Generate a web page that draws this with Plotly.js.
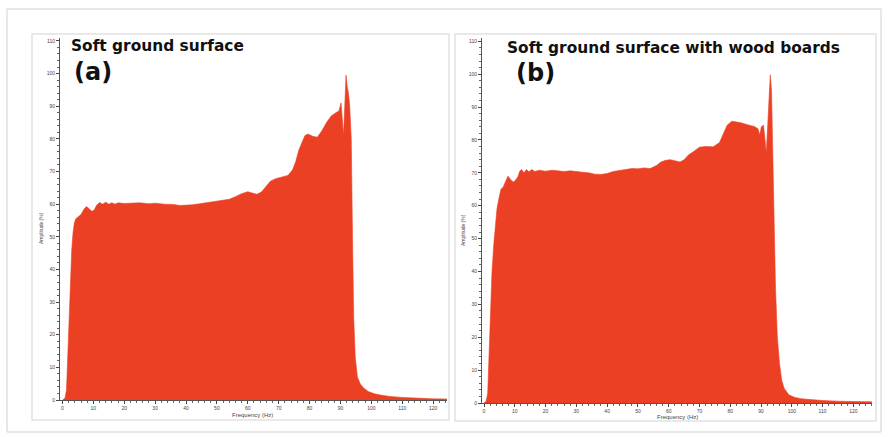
<!DOCTYPE html>
<html>
<head>
<meta charset="utf-8">
<script src="https://cdn.plot.ly/plotly-3.0.1.min.js"></script>
<style>html,body{margin:0;padding:0;background:#fff;}#chart{width:888px;height:437px;}</style>
</head>
<body>
<div id="chart"></div>
<script>
// Panel (a): Soft ground surface
const freqA = [0,0.8,1.3,1.8,2.2,2.6,3.0,3.4,3.8,4.3,5,6,7,7.8,8.6,9.5,10.3,11,12,13,14,15,16,17,18,20,22,25,28,30,33,36,38,40,42,45,48,50,52,54,56,58,60,61.5,63,64.5,66,67.3,69,71,73,74.5,75.5,76.5,77.5,78.5,79.5,81,82.5,84,85.5,87,88.5,89.5,90.2,90.6,91,91.4,91.8,92.2,92.6,93,93.5,93.9,94.3,94.8,95.5,96.5,97.5,99,101,103,106,110,115,120,124.5];
const ampA  = [0,0.5,3,15,28,38,46,51,54,55.5,56,56.8,58.5,59.3,58.6,57.8,58.2,59.6,60.5,60,60.6,60,60.4,60,60.4,60.2,60.3,60.4,60.1,60.3,60,59.9,59.6,59.7,59.8,60.2,60.7,61,61.3,61.5,62.3,63.2,63.8,63.5,63,63.8,65.5,67,67.8,68.2,68.8,70.5,73,76.5,79,81,81.5,80.8,80.5,82.5,85,87,88,88.5,91,85,81,90,99.5,96,94,90,80,50,25,13,7,4.8,3.7,2.6,1.9,1.5,1.1,0.8,0.5,0.35,0.3];

// Panel (b): Soft ground surface with wood boards
const freqB = [0,0.7,1.2,1.7,2.1,2.6,3.2,3.7,4.2,4.8,5.5,6.2,7,7.8,8.6,9.5,10.3,11,11.6,12.2,13,13.8,14.6,15.5,16.5,18,20,22,24,26,28,30,32,34,36,38,40,42,44,46,48,50,52,54,56,57.5,59,60.5,62,63.7,65,66.5,68,70,72,74.5,76.5,78,79,80.5,82,83.5,85,86.5,88,89,89.6,90.1,90.8,91.3,91.7,92.2,92.7,93,93.4,93.8,94.2,94.7,95.3,96,96.7,97.5,99,101,103,106,110,115,120,126];
const ampB  = [0,0.5,3,15,28,40,48.5,55,59,62,65,65.6,67.5,69,68,67.2,67.8,68.8,70.5,71,70,71,70.3,71,70.4,70.8,70.5,70.8,70.6,70.4,70.6,70.3,70.2,70,69.6,69.5,69.8,70.4,70.7,71,71.3,71.2,71.5,71.3,72.2,73.3,73.8,74,73.6,73.3,74,75.5,76.4,77.8,78,77.9,79.2,82.5,84.5,85.7,85.5,85.2,84.8,84.5,84,83.4,81.5,84,84.5,80,76,85,97,99.8,95,75,55,35,20,12,7,4.5,2.5,1.7,1.3,1,0.75,0.55,0.45,0.35];

const xTicks = [0,10,20,30,40,50,60,70,80,90,100,110,120];
const yTicks = [0,10,20,30,40,50,60,70,80,90,100,110];
const titleA = "Soft ground surface";
const titleB = "Soft ground surface with wood boards";
const labelA = "(a)";
const labelB = "(b)";
const xTitle = "Frequency (Hz)";
const yTitle = "Amplitude (%)";

const W = 888, H = 437;
const px = v => v / W;
const py = v => 1 - v / H;
const RED = '#EC4024';

const traces = [
  {x: freqA, y: ampA, type: 'scatter', mode: 'lines', fill: 'tozeroy',
   line: {color: RED, width: 0.6}, fillcolor: RED, xaxis: 'x', yaxis: 'y', hoverinfo: 'x+y'},
  {x: freqB, y: ampB, type: 'scatter', mode: 'lines', fill: 'tozeroy',
   line: {color: RED, width: 0.6}, fillcolor: RED, xaxis: 'x2', yaxis: 'y2', hoverinfo: 'x+y'}
];

function xax(domain, range, anchor) {
  return {domain: domain, range: range, anchor: anchor, tickvals: xTicks, ticktext: xTicks.map(String),
    showgrid: false, zeroline: false, showline: true, linecolor: '#555', linewidth: 1,
    ticks: 'outside', ticklen: 3, tickcolor: '#444', tickfont: {family: 'Liberation Sans', size: 5, color: '#444'},
    minor: {ticks: 'outside', dtick: 2, ticklen: 2, tickcolor: '#666'}, fixedrange: true};
}
function yax(domain, range, anchor) {
  return {domain: domain, range: range, anchor: anchor, tickvals: yTicks, ticktext: yTicks.map(String),
    showgrid: false, zeroline: false, showline: true, linecolor: '#555', linewidth: 1,
    ticks: 'outside', ticklen: 3, tickcolor: '#444', tickfont: {family: 'Liberation Sans', size: 5, color: '#444'},
    minor: {ticks: 'outside', dtick: 2, ticklen: 2, tickcolor: '#666'}, fixedrange: true};
}

const layout = {
  width: W, height: H,
  margin: {l: 0, r: 0, t: 0, b: 0},
  paper_bgcolor: '#fff', plot_bgcolor: 'rgba(0,0,0,0)',
  showlegend: false,
  xaxis: xax([px(60), px(447)], [-0.8, 124.5], 'y'),
  yaxis: yax([py(400), py(38)], [0, 110.9], 'x'),
  xaxis2: xax([px(482), px(872)], [-0.65, 126.05], 'y2'),
  yaxis2: yax([py(403), py(38)], [0, 111], 'x2'),
  shapes: [
    {type: 'rect', xref: 'paper', yref: 'paper', x0: px(7), x1: px(881), y0: py(432), y1: py(9),
     line: {color: '#d0d0d0', width: 1}, layer: 'below'},
    {type: 'rect', xref: 'paper', yref: 'paper', x0: px(32), x1: px(449), y0: py(420), y1: py(34),
     line: {color: '#e2e2e2', width: 1.5}, layer: 'below'},
    {type: 'rect', xref: 'paper', yref: 'paper', x0: px(455), x1: px(876), y0: py(421), y1: py(34),
     line: {color: '#e2e2e2', width: 1.5}, layer: 'below'}
  ],
  annotations: [
    {text: '<b>' + titleA + '</b>', xref: 'paper', yref: 'paper', x: px(69), y: py(46), xanchor: 'left', yanchor: 'middle',
     showarrow: false, font: {family: 'DejaVu Sans', size: 15.4, color: '#111'}},
    {text: '<b>' + labelA + '</b>', xref: 'paper', yref: 'paper', x: px(72), y: py(72), xanchor: 'left', yanchor: 'middle',
     showarrow: false, font: {family: 'DejaVu Sans', size: 24, color: '#111'}},
    {text: '<b>' + titleB + '</b>', xref: 'paper', yref: 'paper', x: px(505), y: py(48), xanchor: 'left', yanchor: 'middle',
     showarrow: false, font: {family: 'DejaVu Sans', size: 15.4, color: '#111'}},
    {text: '<b>' + labelB + '</b>', xref: 'paper', yref: 'paper', x: px(514), y: py(73), xanchor: 'left', yanchor: 'middle',
     showarrow: false, font: {family: 'DejaVu Sans', size: 24, color: '#111'}},
    {text: xTitle, xref: 'paper', yref: 'paper', x: px(253), y: py(415), xanchor: 'center', yanchor: 'middle',
     showarrow: false, font: {family: 'Liberation Sans', size: 6, color: '#444'}},
    {text: xTitle, xref: 'paper', yref: 'paper', x: px(677), y: py(417), xanchor: 'center', yanchor: 'middle',
     showarrow: false, font: {family: 'Liberation Sans', size: 6, color: '#444'}},
    {text: yTitle, xref: 'paper', yref: 'paper', x: px(41), y: py(228), xanchor: 'center', yanchor: 'middle', textangle: -90,
     showarrow: false, font: {family: 'Liberation Sans', size: 5, color: '#444'}},
    {text: yTitle, xref: 'paper', yref: 'paper', x: px(463), y: py(230), xanchor: 'center', yanchor: 'middle', textangle: -90,
     showarrow: false, font: {family: 'Liberation Sans', size: 5, color: '#444'}}
  ]
};

Plotly.newPlot('chart', traces, layout, {displayModeBar: false, staticPlot: true});
</script>
</body>
</html>
